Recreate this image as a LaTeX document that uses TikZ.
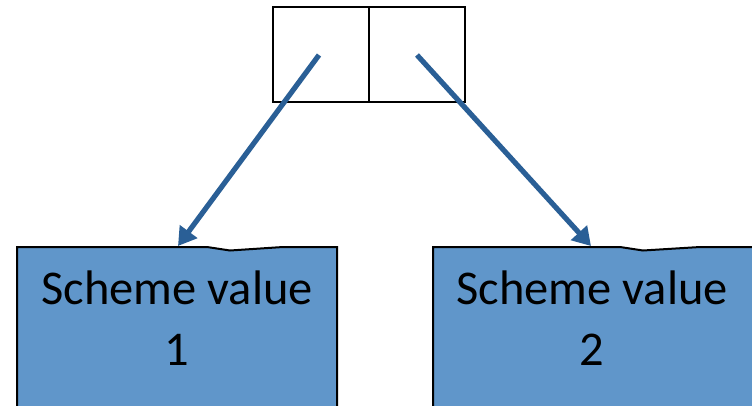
\documentclass[tikz,border=0pt]{standalone}
\usepackage{fontspec}
\setmainfont{Carlito}
\usetikzlibrary{arrows.meta}
\definecolor{boxblue}{RGB}{96,150,202}
\definecolor{arrowblue}{RGB}{42,95,150}
\tikzset{
  cell/.style={draw=black, line width=2pt, minimum width=96pt, minimum height=95pt, inner sep=0pt, outer sep=0pt},
  ptr/.style={draw=arrowblue, line width=5.2pt, -{Triangle[length=18pt, width=21pt]}},
  valbox/.style={fill=boxblue, draw=black, line width=2pt, line join=miter},
  valtext/.style={align=center, font=\fontsize{48.5}{61}\selectfont, inner sep=0pt}
}
\begin{document}
\begin{tikzpicture}[x=1pt, y=-1pt]
\useasboundingbox (0,0) rectangle (752,405);
\clip (0,0) rectangle (752,405);
% pair cells
\node[cell, anchor=north west] (car) at (273,7) {};
\node[cell, anchor=north west] (cdr) at (369,7) {};
\coordinate (carp) at (319,55);
\coordinate (cdrp) at (417,55);
% value boxes
\filldraw[valbox] (17,410) -- (17,247) -- (207,247) -- (230,250.5) -- (283,247) -- (337,247) -- (337,410);
\filldraw[valbox] (433,410) -- (433,247) -- (620,247) -- (643,250.5) -- (700,247) -- (760,247) -- (760,410);
\coordinate (v1top) at (178,246);
\coordinate (v2top) at (591,246);
\node[valtext] (v1) at (177,318) {Scheme value\\1};
\node[valtext] (v2) at (592,318) {Scheme value\\2};
% pointers
\draw[ptr] (carp) -- (v1top);
\draw[ptr] (cdrp) -- (v2top);
\end{tikzpicture}
\end{document}
